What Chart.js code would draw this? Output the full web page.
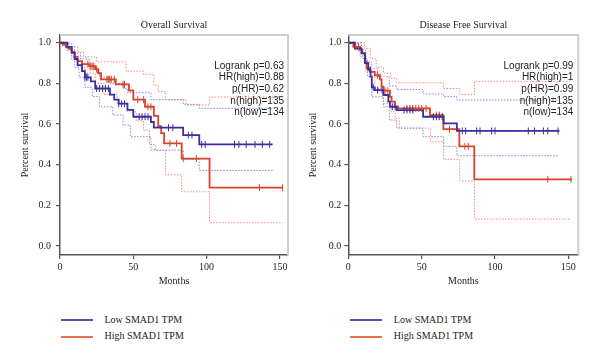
<!DOCTYPE html>
<html>
<head>
<meta charset="utf-8">
<script src="https://cdn.jsdelivr.net/npm/chart.js@4"></script>
<style>
  body { margin: 0; background: #fff; width: 600px; height: 358px; position: relative; overflow: hidden; }
  .panel { position: absolute; top: 0; width: 300px; height: 300px; }
  .leg { position: absolute; font: 10px "Liberation Serif", "DejaVu Serif", serif; color: #222; }
  .leg .sw { position: absolute; width: 32px; height: 2px; }
  .leg .tx { position: absolute; white-space: nowrap; line-height: 12px; }
</style>
</head>
<body>
<div class="panel" style="left:0"><canvas id="os" width="300" height="300"></canvas></div>
<div class="panel" style="left:300px"><canvas id="dfs" width="300" height="300"></canvas></div>
<div id="legends"></div>
<script>
// Labels
const seriesNames = ['Low SMAD1 TPM', 'High SMAD1 TPM'];
const yTickValues = [0, 0.2, 0.4, 0.6, 0.8, 1.0];
const xTickValues = [0, 50, 100, 150];

// Overall survival - low group
const osLowTime = [0, 5, 8, 10, 12, 15, 17, 21, 24, 34, 37, 40, 46, 50, 62, 64, 84, 95, 145];
const osLowSurv = [1.0, 0.98, 0.95, 0.92, 0.89, 0.86, 0.83, 0.81, 0.775, 0.745, 0.72, 0.70, 0.67, 0.636, 0.61, 0.582, 0.546, 0.50, 0.50];
const osLowCens = [17, 18, 19, 25, 27, 29, 31, 33, 40, 42, 44, 54, 56, 58, 60, 74, 77, 87.5, 90, 96.6, 99, 119, 122, 127, 133, 138, 143];
const osLowUpTime = [0, 6, 10, 14, 20, 27, 34, 43, 46, 62, 84, 95, 145];
const osLowUpSurv = [1.0, 0.98, 0.95, 0.92, 0.866, 0.83, 0.80, 0.775, 0.754, 0.72, 0.697, 0.677, 0.677];
const osLowLoTime = [0, 5, 8, 10, 13, 17, 22, 27, 36, 43, 48, 62, 84, 95, 145];
const osLowLoSurv = [1.0, 0.96, 0.92, 0.88, 0.83, 0.78, 0.735, 0.685, 0.645, 0.595, 0.538, 0.472, 0.426, 0.372, 0.372];

// Overall survival - high group
const osHighTime = [0, 2, 4, 6, 8, 10, 12, 15, 20, 24, 26, 28, 38, 47, 50, 58, 64, 67, 69, 71, 83, 102, 151.8];
const osHighSurv = [1.0, 0.99, 0.98, 0.97, 0.955, 0.93, 0.91, 0.895, 0.885, 0.87, 0.85, 0.82, 0.795, 0.765, 0.72, 0.685, 0.64, 0.59, 0.555, 0.505, 0.43, 0.287, 0.287];
const osHighCens = [19, 21, 22, 23, 25, 32, 33, 34, 35, 37, 43, 44, 53, 57, 60, 62, 75, 79.5, 84, 93, 136, 151.8];
const osHighUpTime = [0, 4, 8, 12, 16, 25, 45, 57, 64, 67, 72, 86, 102, 151.8];
const osHighUpSurv = [1.0, 1.0, 0.98, 0.955, 0.93, 0.906, 0.86, 0.845, 0.79, 0.76, 0.72, 0.694, 0.733, 0.733];
const osHighLoTime = [0, 4, 8, 12, 17, 24, 30, 39, 46, 52, 57, 61, 65, 72, 83, 102, 151.8];
const osHighLoSurv = [1.0, 0.97, 0.93, 0.88, 0.85, 0.80, 0.745, 0.70, 0.66, 0.615, 0.57, 0.50, 0.47, 0.35, 0.267, 0.115, 0.115];

// Disease free survival - low group
const dfsLowTime = [0, 4.5, 9, 11.4, 13.6, 15.2, 16, 18, 23.9, 27.3, 28.4, 33, 51, 65, 74, 144];
const dfsLowSurv = [1.0, 0.972, 0.948, 0.9, 0.866, 0.833, 0.78, 0.767, 0.743, 0.71, 0.685, 0.669, 0.636, 0.603, 0.566, 0.566];
const dfsLowCens = [15, 17, 20, 23, 30, 32, 38, 40, 42, 44, 58, 60, 62, 64, 77.7, 80, 87.5, 89.8, 97.7, 100, 122.7, 127, 133, 136, 143];
const dfsLowUpTime = [0, 9, 12, 16, 20, 28, 33, 51, 65, 74, 143];
const dfsLowUpSurv = [1.0, 0.964, 0.906, 0.874, 0.833, 0.787, 0.77, 0.748, 0.735, 0.718, 0.718];
const dfsLowLoTime = [0, 6, 10, 13, 16, 24, 28, 33, 51, 65, 74, 143];
const dfsLowLoSurv = [1.0, 0.96, 0.923, 0.833, 0.734, 0.685, 0.62, 0.58, 0.538, 0.49, 0.444, 0.444];

// Disease free survival - high group
const dfsHighTime = [0, 3.4, 8, 9.5, 11.4, 12.5, 14.8, 18, 21.6, 22.7, 24, 28.4, 29.5, 31.8, 34, 55.7, 64.8, 75.7, 85.9, 152.5];
const dfsHighSurv = [1.0, 0.98, 0.965, 0.948, 0.907, 0.874, 0.857, 0.84, 0.82, 0.784, 0.764, 0.734, 0.71, 0.685, 0.677, 0.644, 0.575, 0.49, 0.328, 0.328];
const dfsHighCens = [5, 7, 20, 25, 27, 40, 42, 44, 46, 48, 50, 53, 60, 62, 69, 79.5, 81.8, 136, 151.8];
const dfsHighUpTime = [0, 8, 11, 15, 19, 24, 29, 33, 65, 76, 86, 151];
const dfsHighUpSurv = [1.0, 1.0, 0.97, 0.923, 0.88, 0.85, 0.825, 0.803, 0.775, 0.746, 0.81, 0.81];
const dfsHighLoTime = [0, 4, 8, 12, 18, 24, 29, 32, 35, 56, 65, 76, 86, 151];
const dfsHighLoSurv = [1.0, 0.97, 0.93, 0.857, 0.775, 0.70, 0.66, 0.628, 0.58, 0.513, 0.426, 0.32, 0.133, 0.133];

// Stats text
const osStats = ['Logrank p=0.63', 'HR(high)=0.88', 'p(HR)=0.62', 'n(high)=135', 'n(low)=134'];
const dfsStats = ['Logrank p=0.99', 'HR(high)=1', 'p(HR)=0.99', 'n(high)=135', 'n(low)=134'];

const BLUE = '#3a2e9e';
const RED = '#d9432a';
const BLUE_CI = '#8b84dc';
const RED_CI = '#ef8c78';
const SERIF = '"Liberation Serif", "DejaVu Serif", serif';

function pts(t, s) {
    return t.map((x, i) => ({ x: x, y: s[i] }));
}

// put censor ticks on the curve
function censorPts(cens, t, s) {
    return cens.map(c => {
        let k = 0;
        for (let i = 0; i < t.length; i++) { if (t[i] <= c) k = i; }
        return { x: c, y: s[k] };
    });
}

function stepLine(data, color, main) {
    return {
        type: 'line', data: data, borderColor: color, backgroundColor: color,
        borderWidth: main ? 1.8 : 1, borderDash: main ? [] : [1.5, 1.5],
        pointRadius: 0, stepped: true, fill: false, order: main ? 1 : 3
    };
}

function censorSet(data, color) {
    return {
        type: 'scatter', data: data, borderColor: color, backgroundColor: color,
        pointStyle: 'line', rotation: 90, pointRadius: 3.5, borderWidth: 1, order: 0
    };
}

// light grey box on top/right + stats text
const framePlugin = {
    id: 'frame',
    beforeDatasetsDraw(chart, args, opts) {
        const a = chart.chartArea, ctx = chart.ctx;
        ctx.save();
        ctx.strokeStyle = '#cfcfcf';
        ctx.lineWidth = 2;
        ctx.beginPath();
        ctx.moveTo(a.left, a.top);
        ctx.lineTo(a.right, a.top);
        ctx.lineTo(a.right, a.bottom);
        ctx.stroke();
        ctx.restore();
    },
    afterDraw(chart, args, opts) {
        const a = chart.chartArea, ctx = chart.ctx;
        ctx.save();
        ctx.font = '10px "Liberation Sans", Arial, sans-serif';
        ctx.fillStyle = '#222';
        ctx.textAlign = 'right';
        ctx.textBaseline = 'middle';
        opts.lines.forEach((l, i) => ctx.fillText(l, a.right - opts.dx, a.top + 31 + i * 11.6));
        ctx.restore();
    }
};

function makePanel(id, title, cfg) {
    new Chart(document.getElementById(id), {
        data: {
            datasets: [
                stepLine(pts(cfg.lowUpT, cfg.lowUpS), BLUE_CI, false),
                stepLine(pts(cfg.lowLoT, cfg.lowLoS), BLUE_CI, false),
                stepLine(pts(cfg.highUpT, cfg.highUpS), RED_CI, false),
                stepLine(pts(cfg.highLoT, cfg.highLoS), RED_CI, false),
                stepLine(pts(cfg.lowT, cfg.lowS), BLUE, true),
                stepLine(pts(cfg.highT, cfg.highS), RED, true),
                censorSet(censorPts(cfg.lowC, cfg.lowT, cfg.lowS), BLUE),
                censorSet(censorPts(cfg.highC, cfg.highT, cfg.highS), RED)
            ]
        },
        options: {
            responsive: false,
            animation: false,
            layout: { padding: { left: 0, right: cfg.padRight, top: 0, bottom: 0 } },
            plugins: {
                legend: { display: false },
                tooltip: { enabled: false },
                title: {
                    display: true, text: title, fullSize: false, color: '#222',
                    font: { family: SERIF, size: 10, weight: 'normal' },
                    padding: { top: 19, bottom: 4 }
                },
                frame: { lines: cfg.stats, dx: cfg.statsDx }
            },
            scales: {
                x: {
                    type: 'linear', min: 0, max: cfg.xMax,
                    afterBuildTicks: s => { s.ticks = xTickValues.map(v => ({ value: v })); },
                    afterFit: s => { s.height = 45; },
                    grid: { drawOnChartArea: false, tickLength: 4, color: '#555', lineWidth: 1.2 },
                    border: { display: true, color: '#555', width: 1.5 },
                    ticks: { color: '#222', padding: 2, font: { family: SERIF, size: 10 } },
                    title: { display: true, text: 'Months', color: '#222', font: { family: SERIF, size: 10 }, padding: { top: 0, bottom: 12.3 } }
                },
                y: {
                    type: 'linear', min: -0.044, max: 1.038,
                    afterBuildTicks: s => { s.ticks = yTickValues.map(v => ({ value: v })); },
                    afterFit: s => { s.width = cfg.yWidth; },
                    grid: { drawOnChartArea: false, tickLength: 4, color: '#555', lineWidth: 1.2 },
                    border: { display: true, color: '#555', width: 1.5 },
                    ticks: { color: '#222', padding: cfg.yPad, font: { family: SERIF, size: 10 }, callback: v => v.toFixed(1) },
                    title: { display: true, text: 'Percent survival', color: '#222', font: { family: SERIF, size: 10 }, padding: { top: cfg.yTitlePad, bottom: 0 } }
                }
            }
        },
        plugins: [framePlugin]
    });
}

makePanel('os', 'Overall Survival', {
    lowT: osLowTime, lowS: osLowSurv, lowC: osLowCens,
    lowUpT: osLowUpTime, lowUpS: osLowUpSurv, lowLoT: osLowLoTime, lowLoS: osLowLoSurv,
    highT: osHighTime, highS: osHighSurv, highC: osHighCens,
    highUpT: osHighUpTime, highUpS: osHighUpSurv, highLoT: osHighLoTime, highLoS: osHighLoSurv,
    stats: osStats, statsDx: 4, xMax: 155.5, padRight: 12, yWidth: 60, yPad: 5, yTitlePad: 19.7
});

makePanel('dfs', 'Disease Free Survival', {
    lowT: dfsLowTime, lowS: dfsLowSurv, lowC: dfsLowCens,
    lowUpT: dfsLowUpTime, lowUpS: dfsLowUpSurv, lowLoT: dfsLowLoTime, lowLoS: dfsLowLoSurv,
    highT: dfsHighTime, highS: dfsHighSurv, highC: dfsHighCens,
    highUpT: dfsHighUpTime, highUpS: dfsHighUpSurv, highLoT: dfsHighLoTime, highLoS: dfsHighLoSurv,
    stats: dfsStats, statsDx: 5, xMax: 156.8, padRight: 21.7, yWidth: 48.3, yPad: 3, yTitlePad: 7.3
});

// legends under each panel
const legColors = ['#5a4fb4', '#e5704a'];
const legends = document.getElementById('legends');
[60.5, 349.8].forEach(x0 => {
    seriesNames.forEach((name, i) => {
        const y = 320.3 + i * 16.2;
        const d = document.createElement('div');
        d.className = 'leg';
        d.innerHTML = '<div class="sw" style="left:' + x0 + 'px;top:' + (y - 1) + 'px;background:' + legColors[i] + '"></div>' +
            '<div class="tx" style="left:' + (x0 + 44) + 'px;top:' + (y - 6.5) + 'px">' + name + '</div>';
        legends.appendChild(d);
    });
});
</script>
</body>
</html>
